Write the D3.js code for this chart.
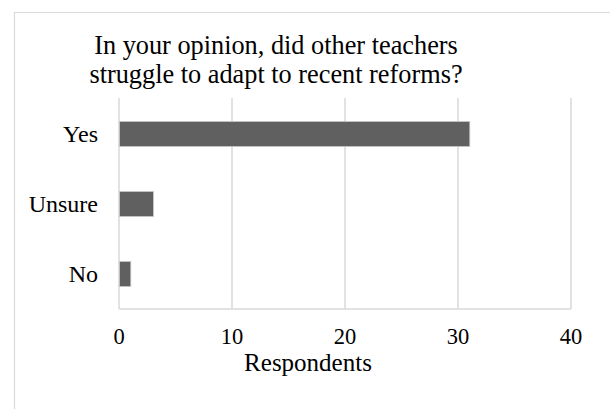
<!DOCTYPE html>
<html>
<head>
<meta charset="utf-8">
<script src="https://cdn.jsdelivr.net/npm/d3@7"></script>
<style>
  html, body { margin: 0; padding: 0; background: #fff; }
  svg { display: block; }
  text { font-family: "Liberation Serif", "Times New Roman", serif; fill: #000; }
</style>
</head>
<body>
<script>
// Survey answers and respondent counts
const categories = ["Yes", "Unsure", "No"];
const respondents = [31, 3, 1];
const xTicks = [0, 10, 20, 30, 40];
const titleLines = ["In your opinion, did other teachers", "struggle to adapt to recent reforms?"];
const xAxisTitle = "Respondents";

const W = 610, H = 409;
const plot = { left: 119, right: 571, top: 99, bottom: 309 };

const svg = d3.select("body").append("svg").attr("width", W).attr("height", H);

// chart frame (left and top edges fall inside the window)
svg.append("path")
  .attr("d", `M14.5,${H} V12.5 H${W}`)
  .attr("fill", "none").attr("stroke", "#d9d9d9").attr("stroke-width", 1.2);

const x = d3.scaleLinear().domain([0, 40]).range([plot.left, plot.right]);
const pad = 45 / 70;
const y = d3.scaleBand().domain(categories).range([plot.top, plot.bottom])
  .paddingInner(pad).paddingOuter(pad / 2);

// vertical gridlines
svg.append("g").selectAll("line").data(xTicks).join("line")
  .attr("x1", d => x(d)).attr("x2", d => x(d))
  .attr("y1", plot.top - 1).attr("y2", plot.bottom)
  .attr("stroke", "#d9d9d9").attr("stroke-width", 1.5);

// horizontal baseline along the bottom of the plot
svg.append("line")
  .attr("x1", plot.left).attr("x2", plot.right)
  .attr("y1", plot.bottom).attr("y2", plot.bottom)
  .attr("stroke", "#d9d9d9").attr("stroke-width", 1.5);

// bars
const data = categories.map((c, i) => ({ c, v: respondents[i] }));
svg.append("g").selectAll("rect").data(data).join("rect")
  .attr("x", x(0) + 0.5)
  .attr("y", d => y(d.c))
  .attr("width", d => x(d.v) - x(0))
  .attr("height", y.bandwidth())
  .attr("fill", "#606060")
  .attr("stroke", "#c8c8c8").attr("stroke-width", 0.8);

// category labels
svg.append("g").selectAll("text").data(categories).join("text")
  .attr("x", 98)
  .attr("y", d => y(d) + y.bandwidth() / 2 + 8)
  .attr("text-anchor", "end")
  .attr("font-size", 24)
  .text(d => d);

// x tick labels
svg.append("g").selectAll("text").data(xTicks).join("text")
  .attr("x", d => x(d))
  .attr("y", 343.5)
  .attr("text-anchor", "middle")
  .attr("font-size", 22.5)
  .text(d => d);

// axis title
svg.append("text")
  .attr("x", 308).attr("y", 371)
  .attr("text-anchor", "middle")
  .attr("font-size", 25)
  .text(xAxisTitle);

// chart title
svg.append("g").selectAll("text").data(titleLines).join("text")
  .attr("x", 276)
  .attr("y", (d, i) => 54 + i * 29)
  .attr("text-anchor", "middle")
  .attr("font-size", 26.3)
  .text(d => d);
</script>
</body>
</html>
